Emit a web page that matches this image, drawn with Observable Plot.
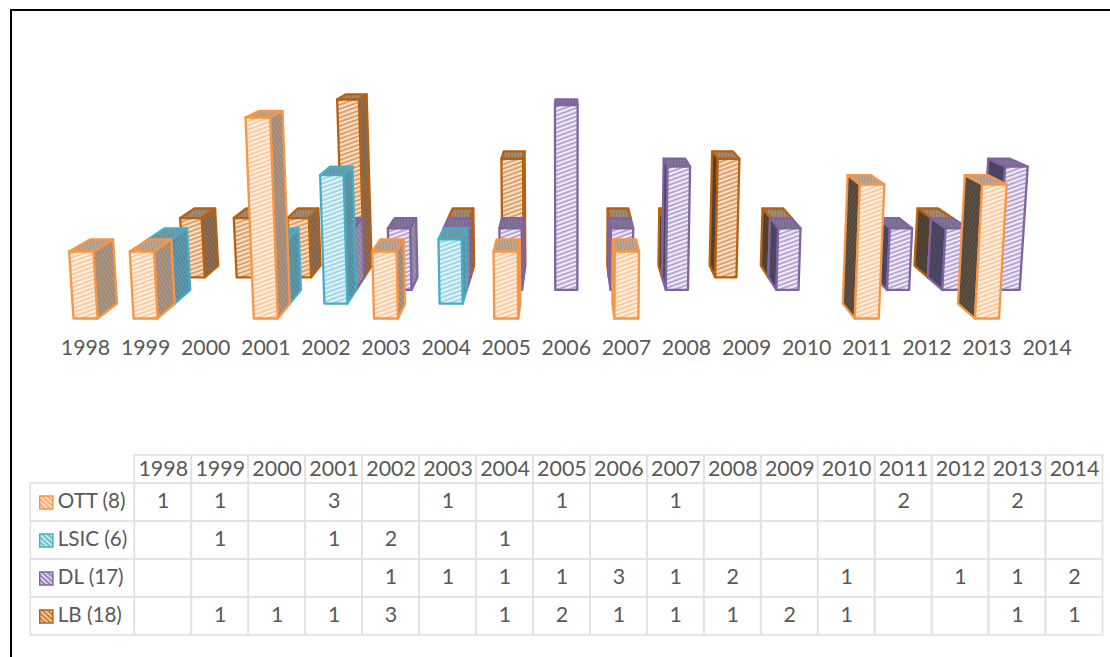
<!DOCTYPE html>
<html>
<head>
<meta charset="utf-8">
<script src="https://cdn.jsdelivr.net/npm/d3@7"></script>
<script src="https://cdn.jsdelivr.net/npm/@observablehq/plot@0.6"></script>
<style>
  html, body { margin: 0; padding: 0; background: #fff; width: 1110px; height: 657px; overflow: hidden; }
  #frame { position: absolute; left: 10px; top: 9px; right: 0; bottom: 0; border-left: 2.4px solid #000; border-top: 2.6px solid #000; pointer-events: none; }
  #chart svg { display: block; }
  #chart { position: absolute; left: 0; top: 0; }
  #defs { position: absolute; width: 0; height: 0; }
</style>
</head>
<body>
<svg id="defs" width="0" height="0"><defs id="patterns"></defs></svg>
<div id="chart"></div>
<div id="frame"></div>
<script>
// ---- data ----
const years = [1998,1999,2000,2001,2002,2003,2004,2005,2006,2007,2008,2009,2010,2011,2012,2013,2014];
const OTT  = [1,1,null,3,null,1,null,1,null,1,null,null,null,2,null,2,null];
const LSIC = [null,1,null,1,2,null,1,null,null,null,null,null,null,null,null,null,null];
const DL   = [null,null,null,null,1,1,1,1,3,1,2,null,1,null,1,1,2];
const LB   = [null,1,1,1,3,null,1,2,1,1,1,2,1,null,null,1,1];
const seriesNames  = ["OTT","LSIC","DL","LB"];
const seriesLabels = ["OTT (8)","LSIC (6)","DL (17)","LB (18)"];
const seriesValues = [OTT, LSIC, DL, LB];

// ---- styles ----
const outline    = ["#F79646","#4BACC6","#8064A2","#B9600F"];
const frontBase  = ["#FFF0E2","#E2F3F8","#F0EBF6","#F8E0C8"];
const frontLine  = ["#FAC89D","#9FD6E5","#B5A5CF","#DB9F68"];
const sideBase   = ["#AE9684","#5F9AAB","#9C93AC","#8F7057"];
const sideLine   = ["#96806E","#4C8496","#7F7490","#795A40"];
const darkBase   = ["#5E5146","#44616B","#4F4B66","#54473A"];
const darkLine   = ["#4A3F36","#344E57","#3E3A52","#41362A"];
const topBase    = ["#BBA997","#6F9FAD","#85789A","#A58D76"];
const topLine    = ["#A69280","#5D8C9A","#6F6285","#8C735B"];
const swatchBase = ["#FEE3CC","#CDEAF2","#DDD3EA","#EFCBA8"];

function patternMarkup(id, base, line, step, w, angle) {
  return `<pattern id="${id}" patternUnits="userSpaceOnUse" width="9" height="${step}" patternTransform="rotate(${angle})">` +
    `<rect width="9" height="${step}" fill="${base}"/>` +
    `<line x1="0" x2="9" y1="${step/2}" y2="${step/2}" stroke="${line}" stroke-width="${w}"/></pattern>`;
}
document.getElementById("patterns").innerHTML = seriesNames.map((n, i) =>
  patternMarkup(`front-${n}`, frontBase[i], frontLine[i], 4, 1.9, -20) +
  patternMarkup(`side-${n}`,  sideBase[i],  sideLine[i],  3.2, 1.1, 60) +
  patternMarkup(`dark-${n}`,  darkBase[i],  darkLine[i],  3.2, 1.1, -60) +
  patternMarkup(`top-${n}`,   topBase[i],   topLine[i],   3,   1.0, 80) +
  patternMarkup(`swatch-${n}`, swatchBase[i], outline[i], 3.6, 1.3, 42)
).join("");

// ---- camera of the pseudo-3D chart, in scale units ----
const pxPerYear = 60.1, pxPerValue = 67;
const originX = 85, originY = 318;             // year 1998, value 0, front row
const centreYear = 2006;
const eye = 23, vanishV = 5.33, spread = 0.0088, halfBar = 0.2;

const xDomain = [1998 - originX / pxPerYear, 1998 + (1110 - originX) / pxPerYear];
const yDomain = [(originY - 440) / pxPerValue, originY / pxPerValue];

const persp = z => eye / (eye + z);

function corner(year, edge, v, z) {
  const s = persp(z);
  return {
    x: centreYear + (year + edge * halfBar - centreYear) * s * (1 + spread * v),
    y: vanishV + (v - vanishV) * s
  };
}

const faces = [];
for (let z = seriesNames.length - 1; z >= 0; --z) {
  const name = seriesNames[z];
  const bars = years
    .map((year, i) => ({year, value: seriesValues[z][i]}))
    .filter(d => d.value != null)
    .sort((a, b) => Math.abs(b.year - centreYear) - Math.abs(a.year - centreYear));
  for (const {year, value} of bars) {
    const left = year < centreYear;
    const edge = left ? 1 : -1;
    const side = left ? `side-${name}` : `dark-${name}`;
    faces.push({fill: `url(#top-${name})`, stroke: outline[z], points: [
      corner(year, -1, value, z), corner(year, 1, value, z), corner(year, 1, value, z + 1), corner(year, -1, value, z + 1)]});
    if (year !== centreYear) faces.push({fill: `url(#${side})`, stroke: outline[z], points: [
      corner(year, edge, 0, z), corner(year, edge, value, z), corner(year, edge, value, z + 1), corner(year, edge, 0, z + 1)]});
    faces.push({fill: `url(#front-${name})`, stroke: outline[z], points: [
      corner(year, -1, 0, z), corner(year, 1, 0, z), corner(year, 1, value, z), corner(year, -1, value, z)]});
  }
}

const fontFamily = "Lato, 'Open Sans', sans-serif";
const textColor = "#595959";

const chart = Plot.plot({
  width: 1110, height: 440, margin: 0,
  style: {background: "transparent", fontFamily},
  x: {domain: xDomain, range: [0, 1110], axis: null},
  y: {domain: yDomain, range: [440, 0], axis: null},
  marks: [
    ...faces.map(f => Plot.line(f.points, {
      x: "x", y: "y", curve: "linear-closed",
      fill: f.fill, stroke: f.stroke, strokeWidth: 2.3, strokeLinejoin: "round"
    })),
    Plot.text(years, {
      x: d => d, y: () => -30 / pxPerValue, text: d => String(d),
      fontSize: 21.3, fill: textColor
    })
  ]
});

// ---- table ----
const colW = 56.95, rowH = 38;
const labelCols = 104 / colW;
const headerRows = 28 / rowH;
const tableCells = [];
years.forEach(y => tableCells.push({x1: y, x2: y + 1, y1: -headerRows, y2: 0}));
seriesNames.forEach((n, r) => {
  tableCells.push({x1: 1998 - labelCols, x2: 1998, y1: r, y2: r + 1});
  years.forEach(y => tableCells.push({x1: y, x2: y + 1, y1: r, y2: r + 1}));
});
const tableValues = [];
seriesValues.forEach((vals, r) => vals.forEach((v, i) => {
  if (v != null) tableValues.push({year: years[i], row: r, value: v});
}));

const table = Plot.plot({
  width: 1110, height: 217, margin: 0,
  style: {background: "transparent", fontFamily},
  x: {domain: [1998 - 134.3 / colW, 1998 + (1110 - 134.3) / colW], range: [0, 1110], axis: null},
  y: {domain: [(483 - 440) / -rowH, (657 - 483) / rowH], range: [0, 217], axis: null},
  marks: [
    Plot.rect(tableCells, {x1: "x1", x2: "x2", y1: "y1", y2: "y2", fill: "none", stroke: "#E2E2E2", strokeWidth: 1.7}),
    ...seriesNames.map((n, r) => Plot.dot([r], {
      x: () => 1998 - 88.5 / colW, y: d => d + 0.5, symbol: "square", r: 7.4,
      fill: `url(#swatch-${n})`, stroke: outline[r], strokeWidth: 1.5
    })),
    Plot.text(seriesLabels, {
      x: () => 1998 - 77 / colW, y: (d, i) => i + 0.5, text: d => d,
      textAnchor: "start", fontSize: 20.6, fill: textColor, dy: -1
    }),
    Plot.text(years, {
      x: d => d + 0.5, y: () => -headerRows / 2, text: d => String(d),
      fontSize: 21.4, fill: textColor
    }),
    Plot.text(tableValues, {
      x: d => d.year + 0.5, y: d => d.row + 0.5, text: d => String(d.value),
      fontSize: 21.4, fill: textColor, dy: -1
    })
  ]
});

const host = document.getElementById("chart");
host.append(chart, table);
</script>
</body>
</html>
